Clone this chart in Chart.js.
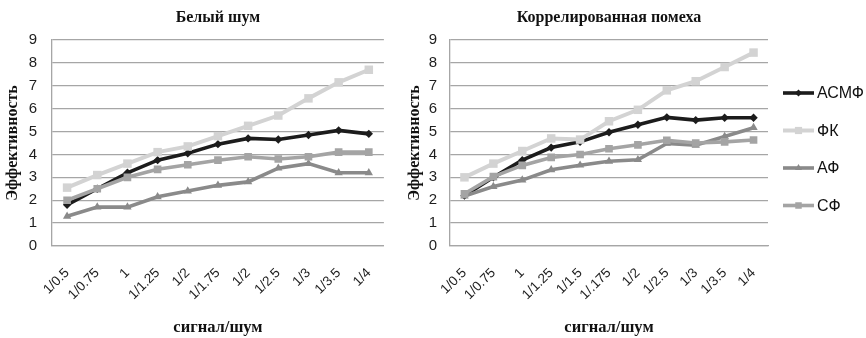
<!DOCTYPE html>
<html>
<head>
<meta charset="utf-8">
<script src="https://cdn.jsdelivr.net/npm/chart.js@4.4.1/dist/chart.umd.min.js"></script>
<style>
  html, body { margin: 0; padding: 0; background: #fff; }
  #wrap { position: relative; width: 866px; height: 338px; overflow: hidden; }
  #c1 { position: absolute; left: 0; top: 0; }
  #c2 { position: absolute; left: 400px; top: 0; }
</style>
</head>
<body>
<div id="wrap">
  <canvas id="c1" width="400" height="338"></canvas>
  <canvas id="c2" width="466" height="338"></canvas>
</div>
<script>
// Series names (legend order)
const seriesNames = ['АСМФ', 'ФК', 'АФ', 'СФ'];

// Белый шум
const whiteLabels = ['1/0.5', '1/0.75', '1', '1/1.25', '1/2', '1/1.75', '1/2', '1/2.5', '1/3', '1/3.5', '1/4'];
const whiteASMF = [1.8, 2.5, 3.2, 3.75, 4.05, 4.45, 4.7, 4.65, 4.85, 5.05, 4.9];
const whiteFK   = [2.55, 3.1, 3.6, 4.1, 4.35, 4.8, 5.25, 5.7, 6.45, 7.15, 7.7];
const whiteAF   = [1.3, 1.7, 1.7, 2.15, 2.4, 2.65, 2.8, 3.4, 3.6, 3.2, 3.2];
const whiteSF   = [2.0, 2.5, 3.0, 3.35, 3.55, 3.75, 3.9, 3.8, 3.9, 4.1, 4.1];

// Коррелированная помеха
const corrLabels = ['1/0.5', '1/0.75', '1', '1/1.25', '1/1.5', '1/.175', '1/2', '1/2.5', '1/3', '1/3.5', '1/4'];
const corrASMF = [2.2, 3.0, 3.75, 4.3, 4.55, 4.97, 5.3, 5.62, 5.5, 5.6, 5.6];
const corrFK   = [3.0, 3.6, 4.15, 4.7, 4.65, 5.45, 5.95, 6.8, 7.2, 7.82, 8.45];
const corrAF   = [2.18, 2.6, 2.88, 3.33, 3.53, 3.7, 3.77, 4.48, 4.4, 4.78, 5.17];
const corrSF   = [2.28, 3.03, 3.52, 3.87, 4.0, 4.25, 4.42, 4.62, 4.5, 4.55, 4.63];

// Y axis ticks
const yTicks = [0, 1, 2, 3, 4, 5, 6, 7, 8, 9];

const SANS = '"Liberation Sans", Arial, sans-serif';
const SERIF = '"Liberation Serif", "Times New Roman", serif';

// Line appearance per series
const styles = [
  { color: '#1c1c1c', pointStyle: 'rectRot',  radius: 4.2, width: 3.6, order: 4 },
  { color: '#d3d3d3', pointStyle: 'rect',     radius: 6,   width: 4,   order: 3 },
  { color: '#8a8a8a', pointStyle: 'triangle', radius: 4.8, width: 3.6, order: 2 },
  { color: '#a4a4a4', pointStyle: 'rect',     radius: 5.4, width: 3.6, order: 1 }
];

function makeDatasets(valuesList) {
  return valuesList.map((vals, i) => ({
    label: seriesNames[i],
    data: vals,
    borderColor: styles[i].color,
    backgroundColor: styles[i].color,
    borderWidth: styles[i].width,
    pointStyle: styles[i].pointStyle,
    pointRadius: styles[i].radius,
    pointBorderWidth: 0,
    pointBackgroundColor: styles[i].color,
    tension: 0,
    order: styles[i].order
  }));
}

// Marker shapes for the legend, same geometry as the chart points
function drawMarker(ctx, style, x, y, r) {
  ctx.beginPath();
  if (style === 'rect') {
    const s = r * Math.SQRT1_2;
    ctx.rect(x - s, y - s, 2 * s, 2 * s);
  } else if (style === 'rectRot') {
    ctx.moveTo(x, y - r); ctx.lineTo(x + r, y); ctx.lineTo(x, y + r); ctx.lineTo(x - r, y);
    ctx.closePath();
  } else if (style === 'triangle') {
    const a = -Math.PI / 2;
    for (let k = 0; k < 3; k++) {
      const ang = a + k * 2 * Math.PI / 3;
      const px = x + Math.cos(ang) * r, py = y + Math.sin(ang) * r;
      k === 0 ? ctx.moveTo(px, py) : ctx.lineTo(px, py);
    }
    ctx.closePath();
  }
  ctx.fill();
}

const sideLegend = {
  id: 'sideLegend',
  afterDraw(chart) {
    const ctx = chart.ctx;
    const area = chart.chartArea;
    const x0 = area.right + 15;
    const top = area.top + 53;
    const step = 37.5;
    ctx.save();
    chart.data.datasets.forEach((ds, i) => {
      const st = styles[i];
      const y = top + i * step;
      ctx.strokeStyle = st.color;
      ctx.fillStyle = st.color;
      ctx.lineWidth = st.width;
      ctx.beginPath();
      ctx.moveTo(x0, y);
      ctx.lineTo(x0 + 31, y);
      ctx.stroke();
      drawMarker(ctx, st.pointStyle, x0 + 15.5, y, st.radius * 0.85);
      ctx.fillStyle = '#111';
      ctx.font = '16px ' + SANS;
      ctx.textAlign = 'left';
      ctx.textBaseline = 'middle';
      ctx.fillText(ds.label, x0 + 34, y + 1);
    });
    ctx.restore();
  }
};

function buildChart(canvasId, title, labels, valuesList, opts) {
  return new Chart(document.getElementById(canvasId), {
    type: 'line',
    data: { labels: labels, datasets: makeDatasets(valuesList) },
    plugins: opts.legend ? [sideLegend] : [],
    options: {
      responsive: false,
      animation: false,
      layout: { padding: { left: 0, right: opts.padRight, top: 0, bottom: 0 } },
      plugins: {
        legend: { display: false },
        tooltip: { enabled: false },
        title: {
          display: true,
          fullSize: false,
          text: title,
          color: '#111',
          font: { family: SERIF, size: 16, weight: 'bold', lineHeight: 1.2 },
          padding: { top: 8, bottom: 12.8 }
        }
      },
      scales: {
        x: {
          offset: true,
          grid: { display: false, drawTicks: false },
          border: { display: true, color: '#a6a6a6', width: 1.3 },
          ticks: {
            autoSkip: false,
            minRotation: 45,
            maxRotation: 45,
            padding: 19,
            color: '#1e1e1e',
            font: { family: SANS, size: 13.5 }
          },
          title: {
            display: true,
            text: 'сигнал/шум',
            color: '#111',
            font: { family: SERIF, size: 16.5, weight: 'bold', lineHeight: 1.2 },
            padding: { top: 0, bottom: 0.5 }
          },
          afterFit(scale) { scale.height = 92; }
        },
        y: {
          min: 0,
          max: 9,
          afterBuildTicks(scale) { scale.ticks = yTicks.map(v => ({ value: v })); },
          grid: { color: '#a6a6a6', lineWidth: 1.3, drawTicks: false },
          border: { display: true, color: '#a6a6a6', width: 1.3 },
          ticks: {
            padding: opts.tickPad,
            color: '#1e1e1e',
            font: { family: SANS, size: 15 }
          },
          title: {
            display: true,
            text: 'Эффективность',
            color: '#111',
            font: { family: SERIF, size: 16, weight: 'bold', lineHeight: 1.2 },
            padding: { top: opts.titlePad, bottom: 0 }
          },
          afterFit(scale) { scale.width = opts.yWidth; }
        }
      }
    }
  });
}

buildChart('c1', 'Белый шум', whiteLabels, [whiteASMF, whiteFK, whiteAF, whiteSF],
  { legend: false, padRight: 13, yWidth: 52, tickPad: 15, titlePad: 3.5 });
buildChart('c2', 'Коррелированная помеха', corrLabels, [corrASMF, corrFK, corrAF, corrSF],
  { legend: true, padRight: 98, yWidth: 50, tickPad: 13, titlePad: 5.5 });
</script>
</body>
</html>
